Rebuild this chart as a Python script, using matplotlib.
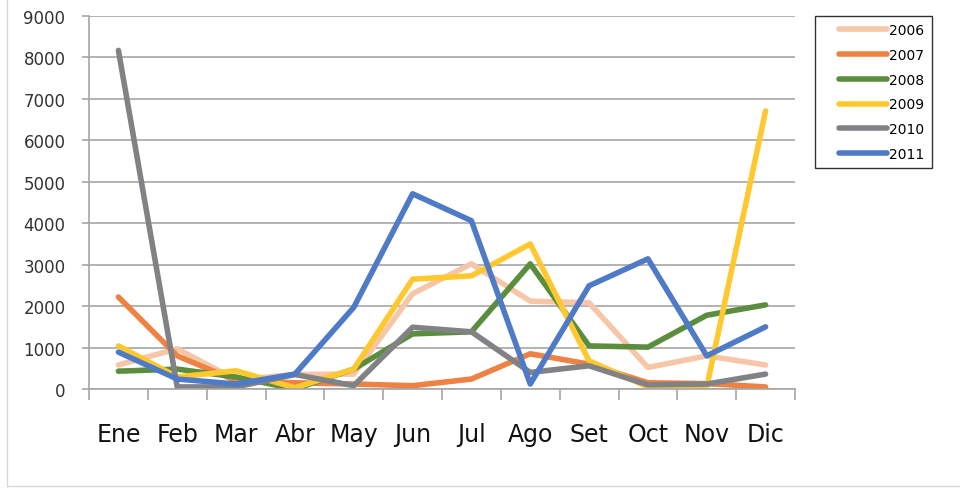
import numpy as np
import matplotlib.pyplot as plt
from matplotlib.legend_handler import HandlerLine2D
from matplotlib.lines import Line2D

# DATA
months = ['Ene', 'Feb', 'Mar', 'Abr', 'May', 'Jun', 'Jul', 'Ago', 'Set', 'Oct', 'Nov', 'Dic']
years = ['2006', '2007', '2008', '2009', '2010', '2011']
v2006 = [580, 970, 220, 350, 360, 2300, 3020, 2120, 2080, 520, 800, 580]
v2007 = [2220, 800, 200, 150, 120, 80, 240, 850, 600, 150, 130, 50]
v2008 = [430, 480, 290, 0, 480, 1330, 1380, 3020, 1040, 1010, 1780, 2030]
v2009 = [1040, 290, 440, 30, 480, 2650, 2730, 3500, 680, 50, 50, 6710]
v2010 = [8170, 50, 50, 350, 80, 1490, 1380, 400, 560, 100, 120, 360]
v2011 = [890, 240, 120, 360, 1970, 4710, 4060, 120, 2490, 3140, 800, 1500]
series = [v2006, v2007, v2008, v2009, v2010, v2011]
colors = ['#F5C6A8', '#EE8243', '#5A8E3E', '#FFC82E', '#808285', '#4E7AC7']

fig = plt.figure(figsize=(9.6, 4.89), dpi=100)
ax = fig.add_axes([89/960, 1-390/489, (795-89)/960, (390-17)/489])

x = np.arange(1, 13)
for vals, c, lab in zip(series, colors, years):
    ax.plot(x, vals, color=c, lw=4, label=lab,
            solid_capstyle='round', solid_joinstyle='round')

ax.set_xlim(0.5, 12.5)
ax.set_ylim(0, 9000)
ax.set_yticks(np.arange(0, 9001, 1000))
ax.yaxis.grid(True, color='#A6A6A6', lw=1.2)
ax.set_axisbelow(True)

ax.set_xticks(x)
ax.set_xticklabels(months, fontsize=17, color='#111111')
ax.set_xticks(np.arange(0.5, 12.6, 1), minor=True)
ax.tick_params(axis='x', which='major', length=0, pad=24)
ax.tick_params(axis='x', which='minor', length=8, color='#A6A6A6', width=1.2)
ax.tick_params(axis='y', length=5, color='#A6A6A6', width=1.2,
               labelsize=12, labelcolor='#333333', pad=12)

for s in ['top', 'right']:
    ax.spines[s].set_visible(False)
ax.spines['left'].set_color('#A6A6A6')
ax.spines['bottom'].set_color('#A6A6A6')
ax.spines['left'].set_linewidth(1.2)
ax.spines['bottom'].set_linewidth(1.2)

leg = fig.legend(loc='upper left', bbox_to_anchor=(815/960, 1-17/489),
                 fontsize=10, frameon=True, fancybox=False, edgecolor='black',
                 handlelength=4.7, handletextpad=0.15, labelspacing=0.78,
                 borderpad=0.5, borderaxespad=0,
                 handler_map={Line2D: HandlerLine2D(xpad=1.2)})
leg.get_frame().set_linewidth(1.0)

# light frame of the chart area
fig.add_artist(Line2D([7/960, 7/960], [0.004, 1], color='#D9D9D9', lw=1))
fig.add_artist(Line2D([7/960, 1], [0.004, 0.004], color='#D9D9D9', lw=1))

fig.savefig('out.png', dpi=100)
